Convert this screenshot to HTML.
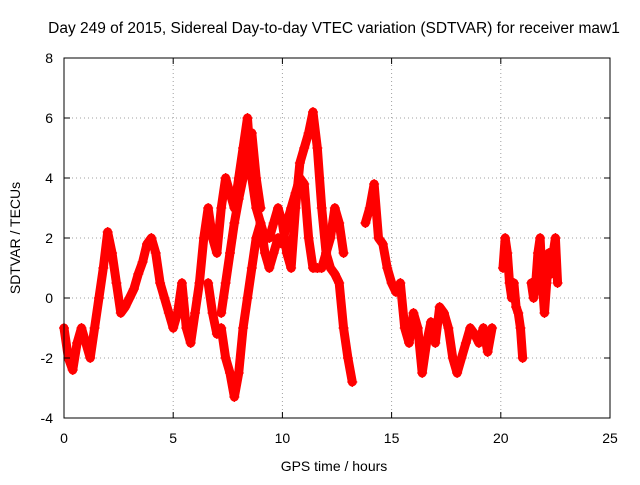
<!DOCTYPE html>
<html><head><meta charset="utf-8"><style>
body{margin:0;background:#fff}
svg text{font-family:"Liberation Sans",sans-serif;font-size:14px;fill:#000}
</style></head><body>
<svg id="chart" width="640" height="480" viewBox="0 0 640 480" xmlns="http://www.w3.org/2000/svg">
<rect width="640" height="480" fill="#fff"/>
<text x="334" y="33" text-anchor="middle" style="font-size:15.5px">Day 249 of 2015, Sidereal Day-to-day VTEC variation (SDTVAR) for receiver maw1</text>
<text x="334" y="471" text-anchor="middle">GPS time / hours</text>
<text x="20" y="238" text-anchor="middle" transform="rotate(-90 20 238)">SDTVAR / TECUs</text>
<g id="grid"></g>
<g id="marks"></g>
<rect x="64" y="58" width="546" height="360" fill="none" stroke="#000" stroke-width="1"/>
<g id="ticks"></g>
</svg>
<script>
const xTicks=[0,5,10,15,20,25];
const yTicks=[-4,-2,0,2,4,6,8];
const t1=[0,0.2,0.4,0.6,0.8,1.0,1.2,1.4,1.6,1.8,2.0,2.2,2.4,2.6,2.8,3.0,3.2,3.4,3.6,3.8,4.0,4.2,4.4,4.6,4.8,5.0,5.2,5.4,5.6,5.8,6.0,6.2,6.4,6.6,6.8,7.0,7.2,7.4,7.6,7.8,8.0,8.2,8.4,8.6,8.8,9.0,9.2,9.4,9.6,9.8,10.0,10.2,10.4,10.6,10.8,11.0,11.2,11.4,11.6,11.8,12.0,12.2,12.4,12.6,12.8,13.0,13.2];
const v1=[-1,-2,-2.4,-1.5,-1,-1.5,-2,-1,0,1,2.2,1.5,0.5,-0.5,-0.3,0,0.3,0.8,1.2,1.8,2,1.5,0.5,0,-0.5,-1,-0.5,0.5,-1,-1.5,-0.5,0.5,2,3,2,1.5,3,4,3.5,3,4,5,6,4,3,2.5,2,2,2.5,3,2.5,1.5,1,3,4.5,5,5.5,6.2,5,3,1.5,1,0.8,0.5,-1,-2,-2.8];
const t2=[6.6,6.8,7.0,7.2,7.4,7.6,7.8,8.0,8.2,8.4,8.6,8.8,9.0,9.2,9.4,9.6,9.8,10.0,10.2,10.4,10.6,10.8,11.0,11.2,11.4,11.6,11.8,12.0,12.2,12.4,12.6,12.8];
const v2=[0.5,-0.5,-1.2,-1,-2,-2.5,-3.3,-2.5,-1,0,1,2,2.5,1.5,1,1.5,2,1.8,2.5,3,3.5,4,3.8,2,1,1,1,1.5,2,3,2.5,1.5];
const t3=[7.2,7.4,7.6,7.8,8.0,8.2,8.4,8.6,8.8,9.0];
const v3=[-0.5,0.5,1.5,2.5,3.3,4,4.5,5.5,4,3];
const t4=[13.8,14.0,14.2,14.4,14.6,14.8,15.0,15.2,15.4,15.6,15.8,16.0,16.2,16.4,16.6,16.8,17.0,17.2,17.4,17.6,17.8,18.0,18.2,18.4,18.6,18.8,19.0,19.2,19.4,19.6];
const v4=[2.5,3,3.8,2,1.8,1,0.5,0.2,0.5,-1,-1.5,-0.5,-1,-2.5,-1.5,-0.8,-1.5,-0.3,-0.5,-1,-2,-2.5,-2,-1.5,-1,-1.2,-1.5,-1,-1.8,-1];
const t5=[20.1,20.2,20.3,20.4,20.5,20.6,20.7,20.8,20.9,21.0];
const v5=[1,2,1.5,0.5,0,0.5,-0.3,-0.5,-1,-2];
const t6=[21.4,21.5,21.6,21.7,21.8,21.9,22.0,22.1,22.2,22.3,22.4,22.5,22.6];
const v6=[0.5,0,0.5,1.5,2,0.5,-0.5,0.5,1.5,0.8,1.5,2,0.5];
const X0=64,X1=610,Y0=418,Y1=58;
function xs(t){return X0+(t-0)/(25-0)*(X1-X0);}
function ys(v){return Y0-(v+4)/12*(Y0-Y1);}
const NS="http://www.w3.org/2000/svg";
const grid=document.getElementById('grid'),ticks=document.getElementById('ticks'),marks=document.getElementById('marks');
function mk(tag,attrs,parent){const e=document.createElementNS(NS,tag);for(const k in attrs)e.setAttribute(k,attrs[k]);parent.appendChild(e);return e;}
xTicks.forEach(t=>{const x=xs(t);
 if(t>0&&t<25){const g=mk('line',{x1:x,x2:x,y1:Y0,y2:Y1,stroke:'#a0a0a0','stroke-dasharray':'1,3'},grid);}
 mk('line',{x1:x,x2:x,y1:Y0,y2:Y0-6,stroke:'#000'},ticks);mk('line',{x1:x,x2:x,y1:Y1,y2:Y1+6,stroke:'#000'},ticks);
 const l=mk('text',{x:x,y:443,'text-anchor':'middle'},ticks);l.textContent=t;
 
 });
yTicks.forEach(v=>{const y=ys(v);
 if(v>-4&&v<8){const g=mk('line',{x1:X0,x2:X1,y1:y,y2:y,stroke:'#a0a0a0','stroke-dasharray':'1,3'},grid);}
 mk('line',{x1:X0,x2:X0+6,y1:y,y2:y,stroke:'#000'},ticks);mk('line',{x1:X1,x2:X1-6,y1:y,y2:y,stroke:'#000'},ticks);
 const l=mk('text',{x:53,y:y+5,'text-anchor':'end'},ticks);l.textContent=v;
 
 });
[[t1,v1],[t2,v2],[t3,v3],[t4,v4],[t5,v5],[t6,v6]].forEach(([T,V],i)=>{
 const pts=T.map((t,j)=>xs(t)+','+ys(V[j])).join(' ');
 const pl=mk('polyline',{points:pts,fill:'none',stroke:'#ff0000','stroke-width':9,'stroke-linejoin':'round','stroke-linecap':'round'},marks);
 
 
 T.forEach((t,j)=>{const x=xs(t),y=ys(V[j]);
  const p=mk('path',{d:`M${x-5},${y}h10M${x},${y-5}v10`,stroke:'#ff0000','stroke-width':1.2},marks);
  
  });
});
</script>
</body></html>
